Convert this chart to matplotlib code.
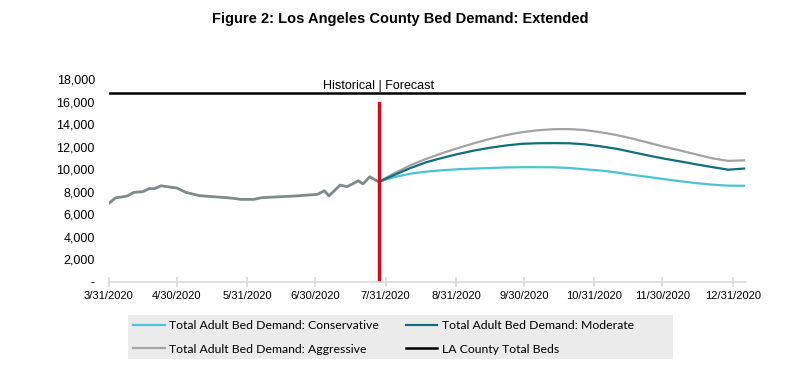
import numpy as np
import pandas as pd
import matplotlib
matplotlib.use('Agg')
from matplotlib import pyplot as plt
from matplotlib.patches import Rectangle

# historical bed demand
histDates = ['2020-03-31', '2020-04-03', '2020-04-05', '2020-04-08', '2020-04-11', '2020-04-15',
             '2020-04-18', '2020-04-20', '2020-04-23', '2020-04-26', '2020-04-30', '2020-05-04',
             '2020-05-10', '2020-05-16', '2020-05-22', '2020-05-26', '2020-05-28', '2020-06-03',
             '2020-06-06', '2020-06-09', '2020-06-15', '2020-06-21', '2020-06-27', '2020-07-01',
             '2020-07-04', '2020-07-06', '2020-07-09', '2020-07-11', '2020-07-14', '2020-07-17',
             '2020-07-19', '2020-07-21', '2020-07-24', '2020-07-26', '2020-07-28']
histValues = [6950, 7450, 7500, 7600, 7930, 8000,
              8280, 8250, 8520, 8430, 8320, 7930,
              7640, 7550, 7460, 7380, 7310, 7310,
              7450, 7490, 7550, 7610, 7700, 7760,
              8080, 7610, 8200, 8580, 8440, 8750,
              8970, 8680, 9320, 9090, 8880]

# weekly forecast from 7/28/2020
forecastStart = '2020-07-28'
conservative = [8880, 9300, 9600, 9780, 9900, 9990, 10050, 10100, 10150, 10170, 10170, 10160,
                10100, 9980, 9870, 9700, 9480, 9300, 9100, 8920, 8750, 8620, 8530, 8520]
moderate = [8880, 9500, 10100, 10620, 11000, 11350, 11650, 11900, 12100, 12250, 12300, 12310,
            12300, 12200, 12020, 11800, 11500, 11200, 10920, 10680, 10420, 10180, 9950, 10050]
aggressive = [8880, 9650, 10350, 10920, 11420, 11880, 12300, 12690, 13020, 13280, 13450, 13550,
              13560, 13470, 13270, 13020, 12700, 12340, 11980, 11650, 11300, 10960, 10730, 10780]
totalBeds = 16800
dividerHeight = 15900

tickDates = ['2020-03-31', '2020-04-30', '2020-05-31', '2020-06-30', '2020-07-31',
             '2020-08-31', '2020-09-30', '2020-10-31', '2020-11-30', '2020-12-31']
tickLabels = ['3/31/2020', '4/30/2020', '5/31/2020', '6/30/2020', '7/31/2020',
              '8/31/2020', '9/30/2020', '10/31/2020', '11/30/2020', '12/31/2020']
yTicks = [0, 2000, 4000, 6000, 8000, 10000, 12000, 14000, 16000, 18000]
yLabels = ['-', '2,000', '4,000', '6,000', '8,000', '10,000', '12,000', '14,000', '16,000', '18,000']

plt.rcParams['font.family'] = ['Liberation Sans', 'DejaVu Sans']

histX = pd.to_datetime(histDates)
fcX = pd.date_range(forecastStart, periods=len(moderate), freq='7D')
xStart = pd.Timestamp('2020-03-31')
xEnd = pd.Timestamp('2021-01-06')

fig = plt.figure(figsize=(8, 3.75), dpi=100)
ax = fig.add_axes([0.136, 0.249, 0.797, 0.54])

ax.plot(histX, histValues, color='#7f8b8b', lw=2)
lCons, = ax.plot(fcX, conservative, color='#4cc3d1', lw=1.6,
                 label='Total Adult Bed Demand: Conservative')
lAgg, = ax.plot(fcX, aggressive, color='#a3a3a3', lw=1.6,
                label='Total Adult Bed Demand: Aggressive')
lMod, = ax.plot(fcX, moderate, color='#0f6f7b', lw=1.6,
                label='Total Adult Bed Demand: Moderate')
lBeds, = ax.plot([xStart, xEnd], [totalBeds, totalBeds], color='black', lw=1.8,
                 label='LA County Total Beds')
divider = pd.Timestamp(forecastStart)
ax.plot([divider, divider], [0, dividerHeight], color='#e2001a', lw=2.4)
ax.text(divider, totalBeds + 20, 'Historical | Forecast', ha='center', va='bottom', fontsize=9)

ax.set_xlim(xStart, xEnd)
ax.set_ylim(0, 18000)
ax.set_xticks(pd.to_datetime(tickDates))
ax.set_xticklabels(tickLabels, fontsize=8)
ax.set_yticks(yTicks)
ax.set_yticklabels(yLabels, fontsize=9)
for side in ['top', 'right', 'left']:
    ax.spines[side].set_visible(False)
ax.spines['bottom'].set_color('#d9d9d9')
ax.spines['bottom'].set_linewidth(1.2)
ax.tick_params(axis='x', direction='inout', length=7, color='#d9d9d9', width=1.2, pad=3)
ax.tick_params(axis='y', length=0, pad=10)

fig.suptitle('Figure 2: Los Angeles County Bed Demand: Extended', x=0.5, y=0.968,
             fontsize=10.5, fontweight='bold')

# grey legend panel, wider than the legend entries
fig.patches.append(Rectangle((0.16, 0.043), 0.681, 0.117, transform=fig.transFigure,
                             facecolor='#ebebeb', edgecolor='none', zorder=0))
leg = fig.legend(handles=[lCons, lAgg, lMod, lBeds], ncol=2, loc='upper left',
                 bbox_to_anchor=(0.166, 0.147), frameon=False,
                 prop={'family': 'Lato', 'size': 8.8},
                 handlelength=2.6, handletextpad=0.4, borderaxespad=0, labelspacing=1.05,
                 borderpad=0, columnspacing=2.15)

fig.savefig('out.png', dpi=100)
